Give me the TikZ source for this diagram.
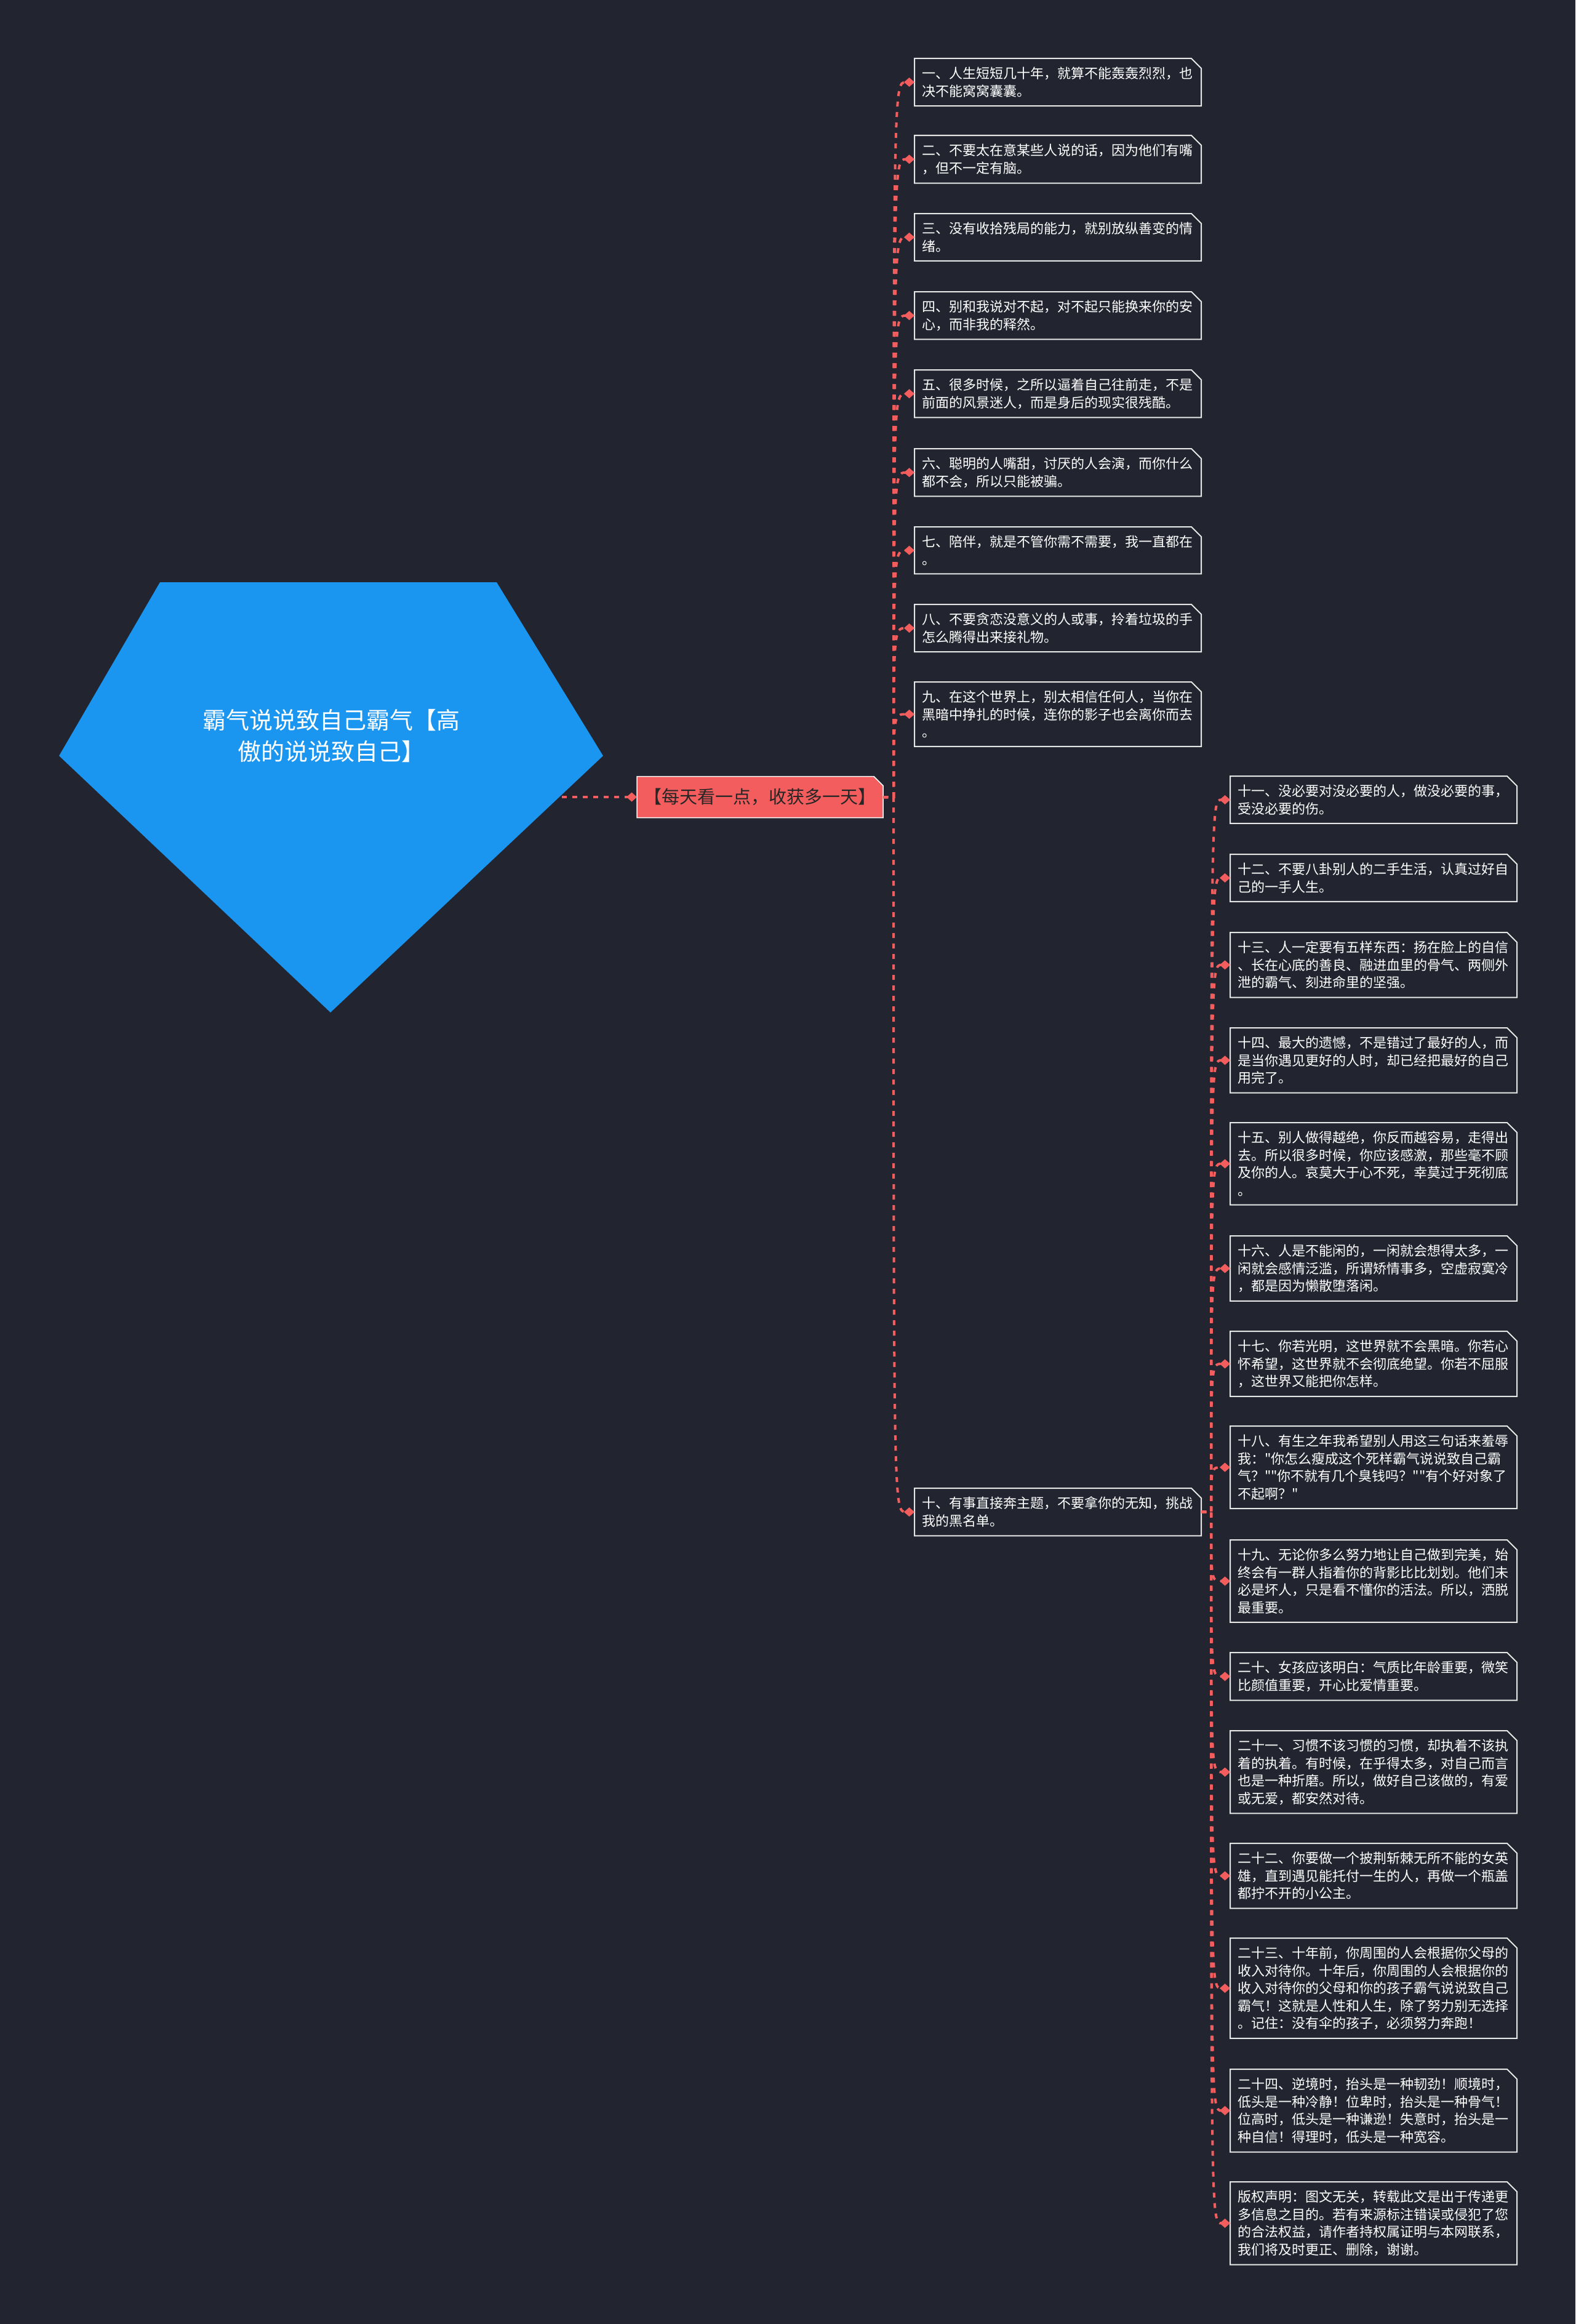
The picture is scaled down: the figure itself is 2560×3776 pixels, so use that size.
\documentclass[tikz,border=0pt]{standalone}
\usepackage{fontspec}
\setmainfont{Noto Sans CJK SC}[Ligatures=TeXOff]
\usetikzlibrary{arrows.meta, backgrounds, calc}
\definecolor{night}{HTML}{222530}
\definecolor{skyblue}{HTML}{1A96F0}
\definecolor{coral}{HTML}{F45D5D}
\definecolor{rim}{HTML}{E6E6E6}
\definecolor{ink}{HTML}{262626}
\newcommand{\leaffont}{\fontsize{22}{28.5}\selectfont}
\tikzset{
  leaf/.style={anchor=north west, text width=442pt, inner xsep=12pt, inner ysep=14pt,
    outer sep=0pt, align=left, text=white, font=\leaffont},
  tipbox/.style={minimum width=400pt, minimum height=67pt, inner sep=0pt, outer sep=0pt,
    text=ink, font=\fontsize{29}{34}\selectfont},
  rootlabel/.style={align=center, text=white, font=\fontsize{38}{51}\selectfont},
  linkline/.style={-{Diamond[length=17pt, width=15pt]}, coral, line width=4pt,
    dash pattern=on 8pt off 9pt},
  boxline/.style={rim, line width=2pt},
}

\begin{document}
\begin{tikzpicture}[x=1pt, y=-1pt]
\useasboundingbox (0,0) rectangle (2560,3776);
% root
\fill[skyblue] (260,946) -- (807,946) -- (980,1228) -- (537,1645) -- (96,1228) -- cycle;
\node[rootlabel] (root) at (538,1196) {霸气说说致自己霸气【高\\傲的说说致自己】};
\coordinate (rootout) at (913,1295);
\node[tipbox] (tip) at (1235,1295) {【每天看一点，收获多一天】};

% left column
\node[leaf] (s1) at (1486,95) {一、人生短短几十年，就算不能轰轰烈烈，也\\决不能窝窝囊囊。};
\node[leaf] (s2) at (1486,220) {二、不要太在意某些人说的话，因为他们有嘴\\，但不一定有脑。};
\node[leaf] (s3) at (1486,347) {三、没有收拾残局的能力，就别放纵善变的情\\绪。};
\node[leaf] (s4) at (1486,474) {四、别和我说对不起，对不起只能换来你的安\\心，而非我的释然。};
\node[leaf] (s5) at (1486,601) {五、很多时候，之所以逼着自己往前走，不是\\前面的风景迷人，而是身后的现实很残酷。};
\node[leaf] (s6) at (1486,729) {六、聪明的人嘴甜，讨厌的人会演，而你什么\\都不会，所以只能被骗。};
\node[leaf] (s7) at (1486,856) {七、陪伴，就是不管你需不需要，我一直都在\\。};
\node[leaf] (s8) at (1486,982) {八、不要贪恋没意义的人或事，拎着垃圾的手\\怎么腾得出来接礼物。};
\node[leaf] (s9) at (1486,1108) {九、在这个世界上，别太相信任何人，当你在\\黑暗中挣扎的时候，连你的影子也会离你而去\\。};
\node[leaf] (s10) at (1486,2418) {十、有事直接奔主题，不要拿你的无知，挑战\\我的黑名单。};

% right column
\node[leaf] (s11) at (1999,1261) {十一、没必要对没必要的人，做没必要的事，\\受没必要的伤。};
\node[leaf] (s12) at (1999,1388) {十二、不要八卦别人的二手生活，认真过好自\\己的一手人生。};
\node[leaf] (s13) at (1999,1515) {十三、人一定要有五样东西：扬在脸上的自信\\、长在心底的善良、融进血里的骨气、两侧外\\泄的霸气、刻进命里的坚强。};
\node[leaf] (s14) at (1999,1670) {十四、最大的遗憾，不是错过了最好的人，而\\是当你遇见更好的人时，却已经把最好的自己\\用完了。};
\node[leaf] (s15) at (1999,1824) {十五、别人做得越绝，你反而越容易，走得出\\去。所以很多时候，你应该感激，那些毫不顾\\及你的人。哀莫大于心不死，幸莫过于死彻底\\。};
\node[leaf] (s16) at (1999,2008) {十六、人是不能闲的，一闲就会想得太多，一\\闲就会感情泛滥，所谓矫情事多，空虚寂寞冷\\，都是因为懒散堕落闲。};
\node[leaf] (s17) at (1999,2163) {十七、你若光明，这世界就不会黑暗。你若心\\怀希望，这世界就不会彻底绝望。你若不屈服\\，这世界又能把你怎样。};
\node[leaf] (s18) at (1999,2317) {十八、有生之年我希望别人用这三句话来羞辱\\我："你怎么瘦成这个死样霸气说说致自己霸\\气？""你不就有几个臭钱吗？""有个好对象了\\不起啊？"};
\node[leaf] (s19) at (1999,2502) {十九、无论你多么努力地让自己做到完美，始\\终会有一群人指着你的背影比比划划。他们未\\必是坏人，只是看不懂你的活法。所以，洒脱\\最重要。};
\node[leaf] (s20) at (1999,2685) {二十、女孩应该明白：气质比年龄重要，微笑\\比颜值重要，开心比爱情重要。};
\node[leaf] (s21) at (1999,2812) {二十一、习惯不该习惯的习惯，却执着不该执\\着的执着。有时候，在乎得太多，对自己而言\\也是一种折磨。所以，做好自己该做的，有爱\\或无爱，都安然对待。};
\node[leaf] (s22) at (1999,2995) {二十二、你要做一个披荆斩棘无所不能的女英\\雄，直到遇见能托付一生的人，再做一个瓶盖\\都拧不开的小公主。};
\node[leaf] (s23) at (1999,3149) {二十三、十年前，你周围的人会根据你父母的\\收入对待你。十年后，你周围的人会根据你的\\收入对待你的父母和你的孩子霸气说说致自己\\霸气！这就是人性和人生，除了努力别无选择\\。记住：没有伞的孩子，必须努力奔跑！};
\node[leaf] (s24) at (1999,3362) {二十四、逆境时，抬头是一种韧劲！顺境时，\\低头是一种冷静！位卑时，抬头是一种骨气！\\位高时，低头是一种谦逊！失意时，抬头是一\\种自信！得理时，低头是一种宽容。};
\node[leaf] (s25) at (1999,3545) {版权声明：图文无关，转载此文是出于传递更\\多信息之目的。若有来源标注错误或侵犯了您\\的合法权益，请作者持权属证明与本网联系，\\我们将及时更正、删除，谢谢。};

% box outlines
\foreach \i in {1,...,25}
  \draw[boxline] (s\i.south west) -- (s\i.north west) -- ([xshift=-16pt]s\i.north east)
    -- ([yshift=-16pt]s\i.north east) -- (s\i.south east) -- cycle;

\begin{scope}[on background layer]
  \fill[night] (0,0) rectangle (2560,3776);
  \filldraw[fill=coral, draw=white, line width=1.5pt] (tip.south west) -- (tip.north west)
    -- ([xshift=-15pt]tip.north east) -- ([yshift=-15pt]tip.north east) -- (tip.south east) -- cycle;
\end{scope}

% connectors
\coordinate (ltrunk) at ([xshift=17pt]tip.east);
\coordinate (rtrunk) at ([xshift=16pt]s10.east);
\draw[linkline] (rootout) -- (tip.west);
\foreach \i in {1,...,10}
  \draw[linkline] (tip.east) -- (ltrunk) .. controls (ltrunk |- s\i.west) .. (s\i.west);
\foreach \i in {11,...,25}
  \draw[linkline] (s10.east) -- (rtrunk) .. controls (rtrunk |- s\i.west) .. (s\i.west);
\end{tikzpicture}
\end{document}
